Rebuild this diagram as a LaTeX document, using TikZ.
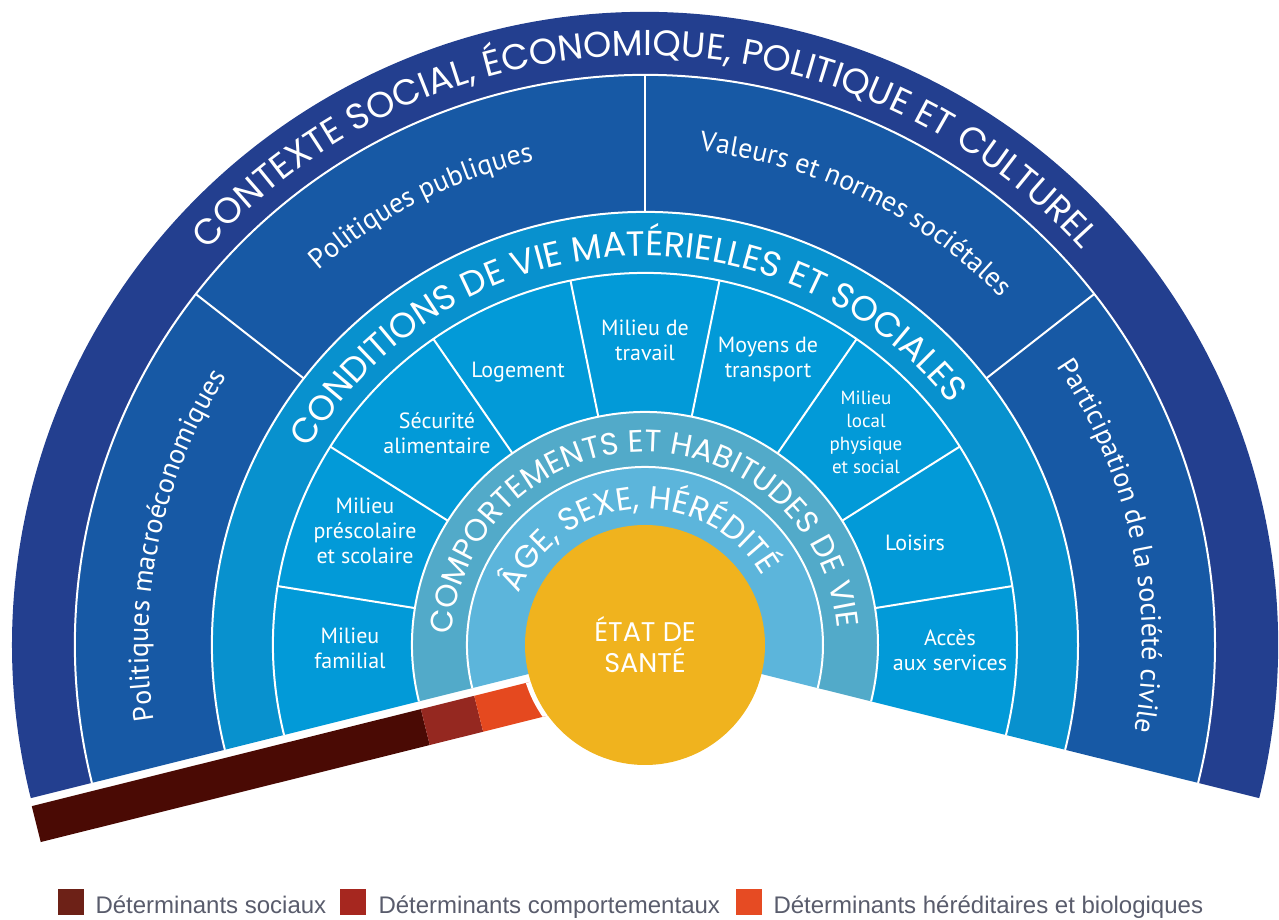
\documentclass[tikz,border=0pt]{standalone}
\usepackage{fontspec}
\setmainfont{PT Sans}
\newfontfamily\capsfont{Poppins}
\newfontfamily\legendfont{Liberation Sans}
\usetikzlibrary{decorations.text}

\definecolor{contextc}{HTML}{233F8F}
\definecolor{politc}{HTML}{1759A5}
\definecolor{condc}{HTML}{0891CE}
\definecolor{milieuc}{HTML}{029AD8}
\definecolor{comportc}{HTML}{52AAC9}
\definecolor{agec}{HTML}{5CB5DB}
\definecolor{santec}{HTML}{F0B31E}
\definecolor{socbar}{HTML}{4A0A04}
\definecolor{combar}{HTML}{952820}
\definecolor{herbar}{HTML}{E5491F}
\definecolor{socleg}{HTML}{6D2117}
\definecolor{comleg}{HTML}{A6271F}
\definecolor{herleg}{HTML}{E64B23}
\definecolor{legtextc}{HTML}{595C6C}

% one ring of the fan: inner radius, outer radius, colour
\newcommand{\fanband}[3]{%
  \fill[#3] (194:#1pt) arc[start angle=194, end angle=-14, radius=#1pt]
    -- (-14:#2pt) arc[start angle=-14, end angle=194, radius=#2pt] -- cycle;}

\begin{document}
\begin{tikzpicture}[x=1pt,y=1pt,
    sepline/.style={white, line width=2pt},
    sector/.style={text=white, align=center, font=\fontsize{22}{25}\selectfont},
    legbox/.style={minimum size=26pt, inner sep=0pt},
    legtext/.style={text=legtextc, anchor=base west, font=\legendfont\fontsize{24}{24}\selectfont}]
	\useasboundingbox (-645,-275) rectangle (634,645);

	% rings
	\fanband{570}{633}{contextc}
	\fanband{433}{570}{politc}
	\fanband{372}{433}{condc}
	\fanband{233}{372}{milieuc}
	\fanband{178}{233}{comportc}
	\fanband{110}{178}{agec}

	% white separations
	\foreach \r in {570,433,372,233,178}
		\draw[sepline] (194:\r pt) arc[start angle=194, end angle=-14, radius=\r pt];
	\foreach \a in {142,90,38}
		\draw[sepline] (\a:433pt) -- (\a:570pt);
	\foreach \k in {1,...,8}
		\draw[sepline] ({194-\k*208/9}:233pt) -- ({194-\k*208/9}:372pt);

	% bar of determinants
	\begin{scope}[rotate=194]
		\fill[socbar] (233,8) rectangle (634,45);
		\fill[combar] (178,8) rectangle (233,45);
		\fill[herbar] (100,8) rectangle (178,45);
		\clip (100,8) rectangle (178,45);
		\fill[white] (0,0) circle (125pt);
	\end{scope}

	% centre
	\node[circle, fill=santec, minimum size=240pt, inner sep=0pt, text=white, align=center,
		font=\capsfont\fontsize{27}{31}\selectfont] (etat) at (0,0) {ÉTAT DE\\SANTÉ};

	% curved titles
	\path[decorate, decoration={text along path, text align=center,
		text={|\capsfont\fontsize{36}{36}\selectfont\color{white}|CONTEXTE SOCIAL, ÉCONOMIQUE, POLITIQUE ET CULTUREL}}]
		(160:589pt) arc[start angle=160, end angle=20, radius=589pt];
	\path[decorate, decoration={text along path, text align=center,
		text={|\capsfont\fontsize{35}{35}\selectfont\color{white}|CONDITIONS DE VIE MATÉRIELLES ET SOCIALES}}]
		(164:389pt) arc[start angle=164, end angle=24, radius=389pt];
	\path[decorate, decoration={text along path, text align=center,
		text={|\capsfont\fontsize{31}{31}\selectfont\color{white}|COMPORTEMENTS ET HABITUDES DE VIE}}]
		(190:193pt) arc[start angle=190, end angle=-8, radius=193pt];
	\path[decorate, decoration={text along path, text align=center,
		text={|\capsfont\fontsize{32}{32}\selectfont\color{white}|ÂGE, SEXE, HÉRÉDITÉ}}]
		(170:136pt) arc[start angle=170, end angle=18, radius=136pt];

	% context sectors
	\path[decorate, decoration={text along path, text align=center,
		text={|\fontsize{28}{28}\selectfont\color{white}|Politiques macroéconomiques}}]
		(200:497pt) arc[start angle=200, end angle=136, radius=497pt];
	\path[decorate, decoration={text along path, text align=center,
		text={|\fontsize{28}{28}\selectfont\color{white}|Politiques publiques}}]
		(145:497pt) arc[start angle=145, end angle=89, radius=497pt];
	\path[decorate, decoration={text along path, text align=center,
		text={|\fontsize{28}{28}\selectfont\color{white}|Valeurs et normes sociétales}}]
		(94:497pt) arc[start angle=94, end angle=34, radius=497pt];
	\path[decorate, decoration={text along path, text align=center,
		text={|\fontsize{28}{28}\selectfont\color{white}|Participation de la société civile}}]
		(44:497pt) arc[start angle=44, end angle=-20, radius=497pt];

	% living conditions sectors
	\node[sector] (familial) at (-295,-3) {Milieu\\familial};
	\node[sector] (scolaire) at (-280,114) {Milieu\\préscolaire\\et scolaire};
	\node[sector] (securite) at (-208,212) {Sécurité\\alimentaire};
	\node[sector] (logement) at (-127,273) {Logement};
	\node[sector] (travail) at (0,305) {Milieu de\\travail};
	\node[sector] (transport) at (123,285) {Moyens de\\transport};
	\node[sector, font=\fontsize{19}{23}\selectfont] (local) at (221,213) {Milieu\\local\\physique\\et social};
	\node[sector] (loisirs) at (270,102) {Loisirs};
	\node[sector] (services) at (305,-5) {Accès\\aux services};

	% legend
	\node[legbox, fill=socleg] (legsoc) at (-574,-256.5) {};
	\node[legtext] (legsoctxt) at (-553,-268) {Déterminants sociaux};
	\node[legbox, fill=comleg] (legcom) at (-291.5,-256.5) {};
	\node[legtext] (legcomtxt) at (-270,-268) {Déterminants comportementaux};
	\node[legbox, fill=herleg] (legher) at (103.5,-256.5) {};
	\node[legtext] (leghertxt) at (125,-268) {Déterminants héréditaires et biologiques};
\end{tikzpicture}
\end{document}
